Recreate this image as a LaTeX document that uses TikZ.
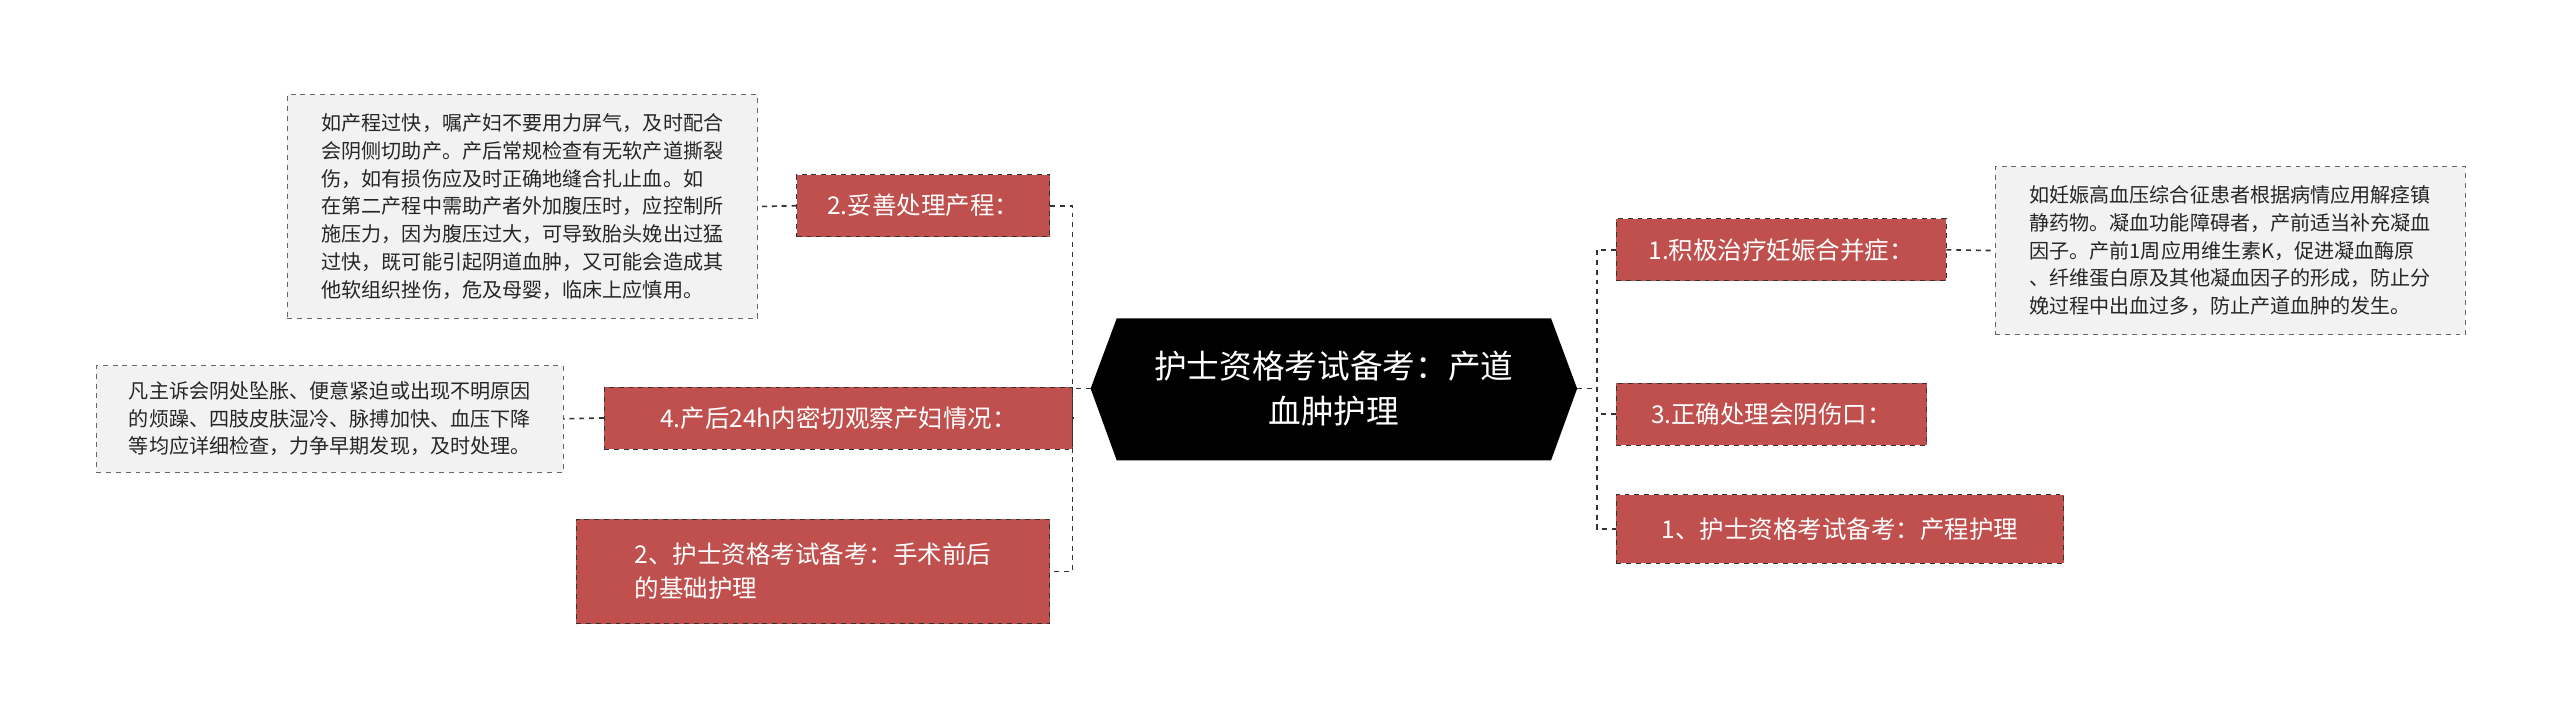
\documentclass[tikz,border=0pt]{standalone}
\usepackage{fontspec}
\setmainfont{Noto Sans CJK SC}
\definecolor{redbox}{HTML}{C0504D}
\definecolor{notefill}{HTML}{F2F2F2}
\definecolor{lnk}{HTML}{333333}
\begin{document}
\begin{tikzpicture}[x=1pt,y=-1pt,
  topic/.style={fill=redbox,draw=lnk,dashed,text=white,font=\fontsize{15}{21}\selectfont,align=left,inner sep=0pt,minimum height=38pt},
  note/.style={fill=notefill,draw=gray!80!black,dashed,text=black!85,font=\fontsize{12.3}{17}\selectfont,align=left,inner sep=5pt},
  link/.style={draw=lnk,dashed,line width=1pt}]
\useasboundingbox (0,0) rectangle (1568,442);
% center
\fill[black] (668,238)--(684,195)--(950,195)--(966,238)--(950,282)--(684,282)--cycle;
\node[text=white,font=\fontsize{20}{28}\selectfont,align=center] (c) at (817,238) {护士资格考试备考：产道\\血肿护理};
\coordinate (cl) at (668,238);
\coordinate (cr) at (966,238);
% left topics
\node[topic,minimum width=155pt] (l1) at (565.5,126) {2.妥善处理产程：};
\node[topic,minimum width=287pt] (l2) at (513.5,256) {4.产后24h内密切观察产妇情况：};
\node[topic,minimum width=290pt,minimum height=64pt] (l3) at (498,350) {2、护士资格考试备考：手术前后\\的基础护理};
% right topics
\node[topic,minimum width=202pt] (r1) at (1091,153) {1.积极治疗妊娠合并症：};
\node[topic,minimum width=190pt] (r2) at (1085,253.5) {3.正确处理会阴伤口：};
\node[topic,minimum width=274pt,minimum height=42pt] (r3) at (1127,324) {1、护士资格考试备考：产程护理};
% notes
\node[note,minimum width=288pt,minimum height=137pt] (n1) at (320,126.5) {如产程过快，嘱产妇不要用力屏气，及时配合\\会阴侧切助产。产后常规检查有无软产道撕裂\\伤，如有损伤应及时正确地缝合扎止血。如\\在第二产程中需助产者外加腹压时，应控制所\\施压力，因为腹压过大，可导致胎头娩出过猛\\过快，既可能引起阴道血肿，又可能会造成其\\他软组织挫伤，危及母婴，临床上应慎用。};
\node[note,minimum width=286pt,minimum height=65pt] (n2) at (202,256.5) {凡主诉会阴处坠胀、便意紧迫或出现不明原因\\的烦躁、四肢皮肤湿冷、脉搏加快、血压下降\\等均应详细检查，力争早期发现，及时处理。};
\node[note,minimum width=288pt,minimum height=103pt] (n3) at (1366,153.5) {如妊娠高血压综合征患者根据病情应用解痉镇\\静药物。凝血功能障碍者，产前适当补充凝血\\因子。产前1周应用维生素K，促进凝血酶原\\、纤维蛋白原及其他凝血因子的形成，防止分\\娩过程中出血过多，防止产道血肿的发生。};
% connectors
\draw[link] (cl) -- (657,238);
\draw[link] (l1.east) -- (657,126) -- (657,350) -- (l3.east);
\draw[link] (l2.east) -- (657,256);
\draw[link] (cr) -- (978,238);
\draw[link] (r1.west) -- (978,153) -- (978,324) -- (r3.west);
\draw[link] (r2.west) -- (978,253.5);
\draw[link] (l1.west) -- (n1.east);
\draw[link] (l2.west) -- (n2.east);
\draw[link] (r1.east) -- (n3.west);
\end{tikzpicture}
\end{document}
